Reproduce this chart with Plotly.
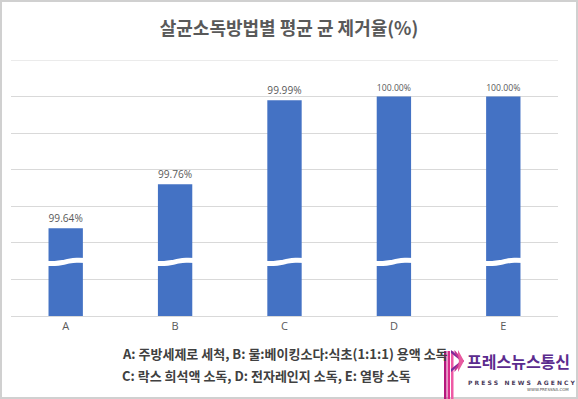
import plotly.graph_objects as go

categories = ["A", "B", "C", "D", "E"]
values = [99.64, 99.76, 99.99, 100.00, 100.00]
labels = ["99.64%", "99.76%", "99.99%", "100.00%", "100.00%"]
title_text = "살균소독방법별 평균 균 제거율(%)"
note_line1 = "A: 주방세제로 세척, B: 물:베이킹소다:식초(1:1:1) 용액 소독"
note_line2 = "C: 락스 희석액 소독, D: 전자레인지 소독, E: 열탕 소독"

W, H = 578, 399
L, R, T, B = 11, 20, 60, 83
PW, PH = W - L - R, H - T - B
Y_MIN, Y_MAX = 99.4, 100.1

def px(x):
    return (x - L) / PW

def py(y):
    return (H - B - y) / PH

BAR = "#4472C4"
GRAY = "#595959"
KR = "Noto Sans CJK KR"

fig = go.Figure()
fig.add_trace(go.Bar(
    x=categories, y=values, marker=dict(color=BAR, line=dict(width=0)),
    text=labels, textposition="outside", cliponaxis=False,
    textfont=dict(family="Open Sans, " + KR, size=12, color=GRAY),
    hoverinfo="skip", showlegend=False,
))

# axis break decorations (white wavy band across each bar)
break_level = 99.548
for i in range(len(categories)):
    xs = [i - 0.19, i - 0.1, i - 0.03, i + 0.03, i + 0.1, i + 0.19]
    ys = [break_level - 0.004, break_level - 0.0045, break_level - 0.002,
          break_level + 0.002, break_level + 0.0045, break_level + 0.004]
    fig.add_trace(go.Scatter(
        x=xs, y=ys, xaxis="x2", mode="lines",
        line=dict(color="white", width=5, shape="spline"),
        hoverinfo="skip", showlegend=False,
    ))

fig.update_layout(
    width=W, height=H,
    margin=dict(l=L, r=R, t=T, b=B, autoexpand=False),
    paper_bgcolor="white", plot_bgcolor="white",
    bargap=0.686,
    title=dict(text=title_text, x=0.5, xanchor="center", y=1 - 29 / H, yanchor="middle",
               yref="container",
               font=dict(family=KR, size=18, color=GRAY, weight="bold")),
    xaxis=dict(showgrid=False, zeroline=False, showline=True, linecolor="#d9d9d9", linewidth=1,
               ticks="", tickfont=dict(family="Open Sans", size=11, color=GRAY),
               fixedrange=True),
    xaxis2=dict(overlaying="x", range=[-0.5, 4.5], visible=False, fixedrange=True),
    yaxis=dict(range=[Y_MIN - 0.0001, Y_MAX + 0.0001], dtick=0.1, tick0=Y_MIN, showticklabels=False,
               showgrid=True, gridcolor="#d9d9d9", gridwidth=1, zeroline=False,
               showline=False, ticks="", fixedrange=True),
)

# top gridline (plotly drops grid lines on the plot edge)
fig.add_shape(type="line", xref="paper", yref="y", x0=0, x1=1, y0=Y_MAX, y1=Y_MAX,
              line=dict(color="#d9d9d9", width=1), layer="below")

anns = [
    dict(text=note_line1, x=px(120), y=py(353)),
    dict(text=note_line2, x=px(120), y=py(375)),
]
for a in anns:
    fig.add_annotation(xref="paper", yref="paper", xanchor="left", yanchor="middle",
                       showarrow=False, text=a["text"], x=a["x"], y=a["y"],
                       font=dict(family=KR, size=13, color="#404040", weight="bold"))

# logo text
fig.add_annotation(xref="paper", yref="paper", xanchor="left", yanchor="middle", showarrow=False,
                   text="프레스뉴스통신", x=px(465), y=py(361),
                   font=dict(family=KR, size=16, color="#5b2b8e", weight="bold"))
fig.add_annotation(xref="paper", yref="paper", xanchor="left", yanchor="middle", showarrow=False,
                   text="P R E S S   N E W S   A G E N C Y", x=px(466), y=py(382),
                   font=dict(family="DejaVu Sans", size=6, color="#4a3a5a", weight="bold"))
fig.add_annotation(xref="paper", yref="paper", xanchor="right", yanchor="middle", showarrow=False,
                   text="WWW.PRESSNA.COM", x=px(571), y=py(389),
                   font=dict(family="DejaVu Sans", size=4, color="#555555"))

# logo icon
stripes = [(444, "#b5177c"), (447.5, "#d92a8a"), (451, "#ee5aa5")]
for x0, c in stripes:
    fig.add_shape(type="rect", xref="paper", yref="paper",
                  x0=px(x0), x1=px(x0 + 2.5), y0=py(399), y1=py(351),
                  fillcolor=c, line=dict(width=0), layer="above")
def P(x, y):
    return f"{px(x)},{py(y)}"
for off, c in [(0, "#7a2a9a"), (3.5, "#c2338f"), (7, "#e85a9f")]:
    path = (f"M {P(451 + off, 350)} L {P(464, 361)} L {P(451 + off, 372)} "
            f"L {P(451 + off, 369)} L {P(461 - off * 0.3, 361)} L {P(451 + off, 353)} Z")
    fig.add_shape(type="path", xref="paper", yref="paper", path=path,
                  fillcolor=c, line=dict(width=0), layer="above")

# outer frame
fig.add_shape(type="rect", xref="paper", yref="paper",
              x0=px(1), x1=px(W - 1), y0=py(H - 1), y1=py(1),
              line=dict(color="#d0d0d0", width=2), fillcolor="rgba(0,0,0,0)", layer="below")

fig.write_html("out.html", config={"displayModeBar": False},
               post_script="document.body.style.margin='0';document.body.style.padding='0';")
